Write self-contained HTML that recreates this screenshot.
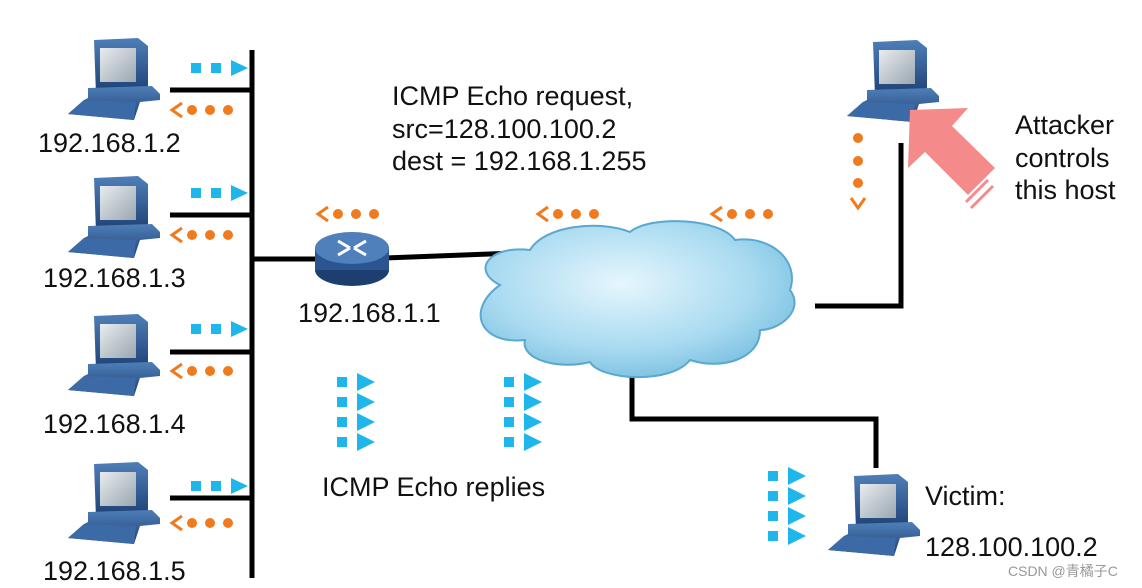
<!DOCTYPE html>
<html><head><meta charset="utf-8"><style>
html,body{margin:0;padding:0;background:#fff;}
svg{display:block;}
text{font-family:"Liberation Sans",Arial,sans-serif;fill:#111;font-size:27px;}
</style></head><body>
<svg width="1142" height="588" viewBox="0 0 1142 588" xmlns="http://www.w3.org/2000/svg">
<defs>
<linearGradient id="scr" x1="0" y1="0" x2="1" y2="1"><stop offset="0" stop-color="#e8ecef"/><stop offset="1" stop-color="#9aa6b0"/></linearGradient>
<linearGradient id="blu" x1="0" y1="0" x2="0" y2="1"><stop offset="0" stop-color="#4f7fb8"/><stop offset="1" stop-color="#1d3f73"/></linearGradient>
<radialGradient id="cl" cx="0.45" cy="0.4" r="0.7"><stop offset="0" stop-color="#e6f6fd"/><stop offset="0.6" stop-color="#a8daf0"/><stop offset="1" stop-color="#6cb8dc"/></radialGradient>
<g id="pc">
<path d="M28,2 L72,0 L82,8 L82,54 L30,56 Z" fill="url(#blu)"/>
<rect x="34" y="10" width="36" height="34" fill="url(#scr)"/>
<path d="M22,50 L86,48 L94,56 L94,62 L74,64 L68,82 L2,76 L18,62 L22,60 Z" fill="url(#blu)"/>
<path d="M2,76 L18,62 L70,64 L68,82 Z" fill="#3c6aa6"/>
</g>
<g id="cy"><rect x="0" y="-5" width="10" height="10" fill="#1fb6ec"/><rect x="20" y="-5" width="10" height="10" fill="#1fb6ec"/><path d="M40,-8 L57,0 L40,8 Z" fill="#1fb6ec"/></g>
<g id="or"><path d="M10,-7 L0,0 L10,7" fill="none" stroke="#f07a1e" stroke-width="3"/><circle cx="20" cy="0" r="5" fill="#f07a1e"/><circle cx="38" cy="0" r="5" fill="#f07a1e"/><circle cx="56" cy="0" r="5" fill="#f07a1e"/></g>
<g id="cy2"><rect x="0" y="-5" width="10" height="10" fill="#1fb6ec"/><path d="M20,-9 L38,0 L20,9 Z" fill="#1fb6ec"/></g>
<g id="col"><use href="#cy2" y="0"/><use href="#cy2" y="20"/><use href="#cy2" y="40"/><use href="#cy2" y="60"/></g>
</defs>

<line x1="252" y1="50" x2="252" y2="578" stroke="#000" stroke-width="5"/>
<g stroke="#000" stroke-width="5">
<line x1="170" y1="90" x2="252" y2="90"/>
<line x1="170" y1="215" x2="252" y2="215"/>
<line x1="170" y1="352" x2="252" y2="352"/>
<line x1="170" y1="498" x2="252" y2="498"/>
<line x1="252" y1="259" x2="320" y2="259"/>
<line x1="385" y1="258" x2="515" y2="253"/>
<polyline points="815,306 901,306 901,143" fill="none"/>
<polyline points="632,375 632,419 876,419 876,468" fill="none"/>
</g>

<use href="#pc" x="66" y="38"/>
<use href="#pc" x="66" y="176"/>
<use href="#pc" x="66" y="314"/>
<use href="#pc" x="66" y="462"/>
<use href="#pc" x="845" y="40"/>
<use href="#pc" x="826" y="474"/>

<use href="#cy" x="191" y="68"/><use href="#or" x="172" y="110"/>
<use href="#cy" x="191" y="193"/><use href="#or" x="172" y="235"/>
<use href="#cy" x="191" y="329"/><use href="#or" x="172" y="371"/>
<use href="#cy" x="191" y="486"/><use href="#or" x="172" y="523"/>

<text x="38" y="152">192.168.1.2</text>
<text x="43" y="287">192.168.1.3</text>
<text x="43" y="433">192.168.1.4</text>
<text x="43" y="580">192.168.1.5</text>

<ellipse cx="352" cy="270" rx="37" ry="16" fill="#1c3f70"/>
<rect x="315" y="248" width="74" height="22" fill="#2a5590"/>
<ellipse cx="352" cy="248" rx="37" ry="16" fill="#4f80bb"/>
<path d="M338,241 L350,248 M366,241 L354,248 M338,255 L350,248 M366,255 L354,248" stroke="#fff" stroke-width="3"/>
<text x="298" y="322">192.168.1.1</text>

<use href="#or" x="318" y="214"/><use href="#or" x="538" y="214"/><use href="#or" x="712" y="214"/>

<path d="M500,285 C470,270 490,245 530,250 C545,225 600,220 630,232 C650,215 720,218 735,240 C770,235 800,260 790,290 C805,310 780,330 760,330 C760,360 720,370 690,360 C670,385 600,380 590,362 C560,370 520,360 525,340 C480,345 465,310 500,285 Z" fill="url(#cl)" stroke="#5aa8cf" stroke-width="2"/>

<text x="392" y="105">ICMP Echo request,</text>
<text x="392" y="138">src=128.100.100.2</text>
<text x="392" y="170">dest = 192.168.1.255</text>

<circle cx="858" cy="138" r="5" fill="#f07a1e"/><circle cx="858" cy="161" r="5" fill="#f07a1e"/><circle cx="858" cy="183" r="5" fill="#f07a1e"/>
<path d="M851,198 L858,208 L865,198" fill="none" stroke="#f07a1e" stroke-width="3"/>
<path d="M910,110 L968,108 L952,126 L995,168 L968,195 L925,152 L908,168 Z" fill="#f58a8a"/>
<path d="M988,180 L966,202 M993,186 L971,208" stroke="#f58a8a" stroke-width="3"/>
<text x="1015" y="134">Attacker</text>
<text x="1015" y="167">controls</text>
<text x="1015" y="199">this host</text>

<use href="#col" x="337" y="382"/>
<use href="#col" x="504" y="382"/>
<use href="#col" x="768" y="476"/>
<text x="322" y="496">ICMP Echo replies</text>

<text x="925" y="505">Victim:</text>
<text x="925" y="556">128.100.100.2</text>
<text x="1008" y="576" style="font-size:14px;fill:#999;font-family:'Liberation Sans','Noto Sans CJK SC',sans-serif">CSDN @青橘子C</text>
</svg>
</body></html>
